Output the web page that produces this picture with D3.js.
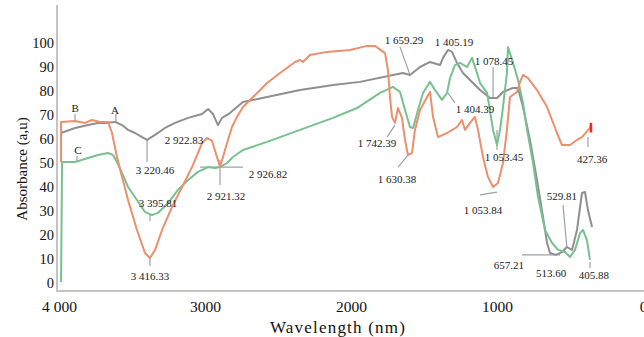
<!DOCTYPE html>
<html>
<head>
<meta charset="utf-8">
<script src="https://cdn.jsdelivr.net/npm/d3@7"></script>
<style>
  html, body { margin: 0; padding: 0; background: #fff; }
  svg text { font-family: 'Liberation Serif', 'Times New Roman', 'DejaVu Serif', serif !important; }
</style>
</head>
<body>
<svg id="chart" width="644" height="337"></svg>
<script>
// spectra: [wavenumber, absorbance]
const seriesA = [
  [3986, 62.5], [3890, 64.6], [3801, 65.8], [3733, 66.7], [3685, 66.7], [3616, 67.1],
  [3568, 65.8], [3527, 63.8], [3479, 62.5], [3431, 60.8], [3397, 59.6], [3342, 61.7],
  [3274, 64.6], [3205, 66.7], [3116, 68.8], [3020, 70.4], [2979, 72.5], [2945, 70.4],
  [2911, 65.8], [2883, 68.8], [2829, 70.8], [2781, 73.3], [2740, 75.4], [2575, 77.5],
  [2349, 80.4], [2123, 82.5], [1938, 83.8], [1712, 86.7], [1644, 87.5], [1596, 86.7],
  [1527, 90], [1459, 92.1], [1390, 90.8], [1370, 93.8], [1336, 97.1], [1308, 96.3],
  [1274, 91.7], [1233, 87.5], [1185, 84.6], [1116, 80.4], [1048, 77.1], [1000, 77.1],
  [959, 79.6], [890, 81.3], [856, 81.3], [822, 73.3], [774, 59.6], [726, 42.9],
  [685, 27.5], [657, 16.7], [637, 12.5], [596, 11.7], [555, 12.9], [521, 15],
  [486, 13.8], [452, 22.1], [418, 37.5], [397, 37.9], [377, 30.4], [349, 23.3]
];
const seriesB = [
  [3986, 50.4], [3986, 67.1], [3890, 67.5], [3822, 66.7], [3774, 67.9], [3719, 67.1],
  [3664, 67.1], [3637, 62.5], [3603, 52.5], [3568, 44.2], [3527, 34.6], [3466, 22.1],
  [3411, 12.5], [3377, 10.4], [3342, 13.8], [3294, 22.1], [3226, 31.7], [3157, 40],
  [3089, 48.3], [3020, 58.3], [2986, 60.4], [2952, 59.2], [2918, 52.5], [2897, 48.3],
  [2877, 52.5], [2843, 59.6], [2815, 65], [2781, 69.2], [2740, 73.3], [2671, 77.5],
  [2575, 83.3], [2486, 87.5], [2383, 92.1], [2349, 92.9], [2329, 92.1], [2281, 95],
  [2164, 96.3], [2007, 97.1], [1890, 98.8], [1836, 98.8], [1767, 95.8], [1747, 88.8],
  [1733, 77.5], [1719, 69.2], [1699, 66.7], [1678, 72.9], [1651, 68.8], [1630, 59.6],
  [1610, 53.3], [1582, 54.2], [1562, 63.8], [1527, 72.1], [1479, 77.5], [1459, 79.6],
  [1438, 69.2], [1404, 60.8], [1342, 62.5], [1274, 65], [1240, 67.9], [1219, 63.8],
  [1185, 66.7], [1151, 69.2], [1130, 63.8], [1096, 52.5], [1062, 44.2], [1027, 40],
  [993, 41.7], [959, 50], [932, 63.8], [911, 77.5], [863, 79.6], [842, 83.8],
  [822, 86.7], [788, 85.4], [726, 80.4], [657, 73.3], [589, 62.5], [555, 57.5],
  [500, 57.5], [452, 59.6], [418, 60.8], [363, 64.6], [356, 66.7]
];
const seriesC = [
  [3986, 0.4], [3979, 50.4], [3890, 50.4], [3801, 52.1], [3733, 53.3], [3664, 54.2],
  [3630, 53.3], [3603, 50.4], [3568, 45.8], [3527, 40], [3466, 34.6], [3411, 29.6],
  [3363, 28.3], [3322, 29.2], [3253, 33.3], [3185, 38.8], [3116, 42.9], [3048, 46.3],
  [2979, 48.3], [2931, 47.9], [2897, 48.3], [2849, 50], [2808, 52.5], [2740, 55.4],
  [2575, 58.8], [2349, 63.8], [2123, 68.8], [1959, 72.9], [1801, 79.2], [1712, 81.7],
  [1664, 79.6], [1630, 72.1], [1596, 65], [1575, 64.6], [1541, 72.1], [1507, 79.2],
  [1459, 83.8], [1425, 80.4], [1377, 76.3], [1342, 79.2], [1322, 85.4], [1288, 90.8],
  [1253, 91.7], [1205, 90], [1171, 93.8], [1137, 87.5], [1116, 83.3], [1068, 79.2],
  [1027, 63.8], [1000, 57.5], [979, 63.8], [959, 73.3], [932, 87.5], [925, 98.3],
  [890, 91.7], [856, 84.6], [822, 75], [794, 63.8], [753, 50], [719, 35.8],
  [671, 22.1], [623, 16.7], [582, 13.8], [534, 12.9], [500, 10.8], [466, 13.8],
  [431, 20.8], [411, 22.1], [384, 17.9], [363, 9.6]
];

const xTicks = [4000, 3000, 2000, 1000, 0];
const xTickLabels = ['4 000', '3000', '2000', '1000', '0'];
const yTicks = [0, 10, 20, 30, 40, 50, 60, 70, 80, 90, 100];

// peak labels: [text, wavenumber, absorbance] of the text centre
const peakLabels = [
  ['3 220.46', 3342, 47.1], ['2 922.83', 3144, 59.6], ['3 395.81', 3322, 33.3],
  ['3 416.33', 3377, 2.9], ['2 926.82', 2568, 45.4], ['2 921.32', 2856, 36.3],
  ['1 659.29', 1637, 101.3], ['1 405.19', 1294, 100.4], ['1 078.45', 1020, 92.5],
  ['1 742.39', 1822, 58.3], ['1 630.38', 1685, 43.3], ['1 404.39', 1151, 72.5],
  ['1 053.45', 952, 52.5], ['1 053.84', 1096, 30.4], ['427.36', 349, 51.7],
  ['529.81', 555, 36.3], ['657.21', 918, 7.5], ['513.60', 630, 4.2], ['405.88', 336, 3.3]
];
const seriesLabels = [['A', 3616, 72.1], ['B', 3890, 72.9], ['C', 3870, 55.4]];

// leader lines: [wn1, abs1, wn2, abs2]
const leaders = [
  [3397, 59.6, 3397, 50.4], [3377, 28.3, 3377, 25.8], [3377, 10, 3377, 7.1],
  [3034, 48.3, 2740, 48.3], [2897, 51.3, 2897, 40.8], [1664, 98.3, 1596, 86.7],
  [1027, 90, 1027, 77.1], [1753, 60.8, 1699, 65.8], [1678, 48.3, 1596, 54.2],
  [1336, 79.2, 1288, 75], [1000, 63.8, 1000, 55.4], [1116, 36.7, 1000, 37.9],
  [377, 60.8, 377, 56.7], [548, 32.5, 521, 14.6], [829, 11.7, 568, 11.7],
  [363, 8.8, 363, 6.3], [3610, 70.4, 3610, 67.1], [3890, 70.4, 3890, 67.5],
  [3877, 52.9, 3877, 50.8]
];

const svg = d3.select('#chart');

const x = d3.scaleLinear().domain([4000, 0]).range([59, 643]);
const y = d3.scaleLinear().domain([0, 100]).range([283, 43]);

// axes
const yAxis = svg.append('g')
  .attr('transform', 'translate(56,0)')
  .call(d3.axisLeft(y).tickValues(yTicks).tickSize(0).tickPadding(2));
yAxis.select('.domain').remove();
yAxis.selectAll('text').attr('font-size', 14.5).attr('fill', '#111');

const xAxis = svg.append('g')
  .attr('transform', 'translate(0,291)')
  .call(d3.axisBottom(x).tickValues(xTicks).tickSize(0).tickPadding(10)
    .tickFormat((d, i) => xTickLabels[i]));
xAxis.select('.domain').remove();
xAxis.selectAll('text').attr('font-size', 15.5).attr('fill', '#111');

svg.append('line')
  .attr('x1', 57).attr('x2', 57).attr('y1', 5).attr('y2', 292)
  .attr('stroke', '#c4c4c4').attr('stroke-width', 2);
svg.append('line')
  .attr('x1', 56).attr('x2', 644).attr('y1', 291).attr('y2', 291)
  .attr('stroke', '#c4c4c4').attr('stroke-width', 2);

svg.append('text')
  .attr('x', 338).attr('y', 333)
  .attr('text-anchor', 'middle')
  .attr('font-size', 17).attr('fill', '#111')
  .attr('letter-spacing', 1.2)
  .text('Wavelength (nm)');

svg.append('text')
  .attr('transform', 'translate(27,169) rotate(-90)')
  .attr('text-anchor', 'middle')
  .attr('font-size', 15).attr('fill', '#111')
  .text('Absorbance (a,u)');

// leaders
svg.append('g').selectAll('line')
  .data(leaders)
  .enter()
  .append('line')
  .attr('x1', d => x(d[0])).attr('y1', d => y(d[1]))
  .attr('x2', d => x(d[2])).attr('y2', d => y(d[3]))
  .attr('stroke', '#9aa0ab').attr('stroke-width', 1.2);

// spectra
const line = d3.line()
  .x(d => x(d[0]))
  .y(d => y(d[1]));

const spectra = [
  { data: seriesA, color: '#8f8f8f' },
  { data: seriesC, color: '#79c08f' },
  { data: seriesB, color: '#ec8f6c' }
];
svg.append('g').selectAll('path')
  .data(spectra)
  .enter()
  .append('path')
  .attr('d', d => line(d.data))
  .attr('fill', 'none')
  .attr('stroke', d => d.color)
  .attr('stroke-width', 2)
  .attr('stroke-linejoin', 'round');

// red end mark on B
const lastB = seriesB[seriesB.length - 1];
svg.append('line')
  .attr('x1', x(lastB[0])).attr('x2', x(lastB[0]))
  .attr('y1', y(lastB[1])).attr('y2', y(lastB[1] - 4))
  .attr('stroke', '#e0302a').attr('stroke-width', 2.5);

// labels
svg.append('g').selectAll('text')
  .data(peakLabels.concat(seriesLabels))
  .enter()
  .append('text')
  .attr('x', d => x(d[1]))
  .attr('y', d => y(d[2]))
  .attr('dy', '0.35em')
  .attr('text-anchor', 'middle')
  .attr('font-size', 11).attr('fill', '#1a1a1a')
  .text(d => d[0]);
</script>
</body>
</html>
